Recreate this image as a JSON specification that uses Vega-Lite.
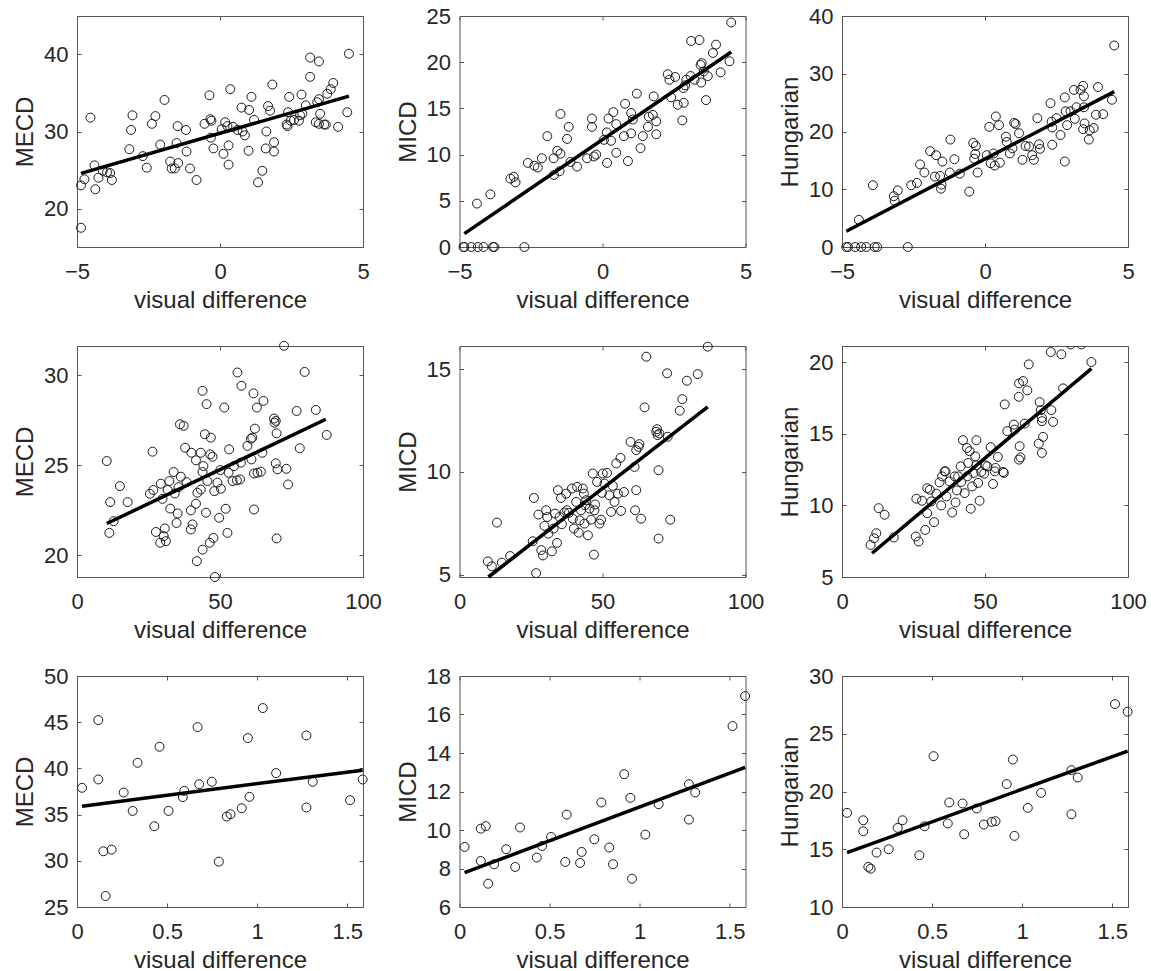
{
"$schema": "https://vega.github.io/schema/vega-lite/v6.json",
"background": "white",
"padding": {"left": 13, "top": 5, "right": 5, "bottom": 5},
"columns": 3,
"spacing": {"row": 99, "column": 96.5},
"bounds": "flush",
"config": {
  "view": {"stroke": null},
  "font": "Liberation Sans",
  "axis": {"grid": false, "domainColor": "#555555", "domainWidth": 1, "tickColor": "#555555", "tickSize": -4, "tickWidth": 1,
    "labelFont": "Liberation Sans", "labelFontSize": 22, "labelColor": "#262626", "labelFlush": false, "labelOverlap": false,
    "titleFont": "Liberation Sans", "titleFontSize": 24, "titleFontWeight": "normal", "titleColor": "#262626"},
  "axisBottom": {"labelPadding": 18, "titlePadding": 6, "labelExpr": "format(datum.value, '~g')"},
  "axisLeft": {"labelPadding": 13, "titlePadding": 6, "labelExpr": "format(datum.value, '~g')"},
  "point": {"shape": "circle", "filled": false, "size": 80, "stroke": "#1a1a1a", "strokeWidth": 1, "opacity": 1},
  "line": {"color": "#000000", "strokeWidth": 3.5}
},
"concat": [
{"width": 286, "height": 231, "resolve": {"axis": {"x": "independent", "y": "independent"}},
 "layer": [
  {"data": {"name": "p1"}, "mark": "point", "encoding": {
    "x": {"field": "x", "type": "quantitative", "scale": {"domain": [-5, 5], "nice": false, "zero": false}, "axis": {"title": "visual difference", "values": [-5, 0, 5]}},
    "y": {"field": "y", "type": "quantitative", "scale": {"domain": [15, 45], "nice": false, "zero": false}, "axis": {"title": "MECD", "values": [20, 30, 40]}}}},
  {"data": {"name": "l1"}, "mark": "line", "encoding": {
    "x": {"field": "x", "type": "quantitative", "scale": {"domain": [-5, 5], "nice": false, "zero": false}, "axis": {"orient": "top", "title": null, "labels": false, "values": [-5, 0, 5]}},
    "y": {"field": "y", "type": "quantitative", "scale": {"domain": [15, 45], "nice": false, "zero": false}, "axis": {"orient": "right", "title": null, "labels": false, "values": [20, 30, 40]}}}}
 ]},
{"width": 286, "height": 231, "resolve": {"axis": {"x": "independent", "y": "independent"}},
 "layer": [
  {"data": {"name": "p2"}, "mark": "point", "encoding": {
    "x": {"field": "x", "type": "quantitative", "scale": {"domain": [-5, 5], "nice": false, "zero": false}, "axis": {"title": "visual difference", "values": [-5, 0, 5]}},
    "y": {"field": "y", "type": "quantitative", "scale": {"domain": [0, 25], "nice": false, "zero": false}, "axis": {"title": "MICD", "values": [0, 5, 10, 15, 20, 25]}}}},
  {"data": {"name": "l2"}, "mark": "line", "encoding": {
    "x": {"field": "x", "type": "quantitative", "scale": {"domain": [-5, 5], "nice": false, "zero": false}, "axis": {"orient": "top", "title": null, "labels": false, "values": [-5, 0, 5]}},
    "y": {"field": "y", "type": "quantitative", "scale": {"domain": [0, 25], "nice": false, "zero": false}, "axis": {"orient": "right", "title": null, "labels": false, "values": [0, 5, 10, 15, 20, 25]}}}}
 ]},
{"width": 286, "height": 231, "resolve": {"axis": {"x": "independent", "y": "independent"}},
 "layer": [
  {"data": {"name": "p3"}, "mark": "point", "encoding": {
    "x": {"field": "x", "type": "quantitative", "scale": {"domain": [-5, 5], "nice": false, "zero": false}, "axis": {"title": "visual difference", "values": [-5, 0, 5]}},
    "y": {"field": "y", "type": "quantitative", "scale": {"domain": [0, 40], "nice": false, "zero": false}, "axis": {"title": "Hungarian", "values": [0, 10, 20, 30, 40]}}}},
  {"data": {"name": "l3"}, "mark": "line", "encoding": {
    "x": {"field": "x", "type": "quantitative", "scale": {"domain": [-5, 5], "nice": false, "zero": false}, "axis": {"orient": "top", "title": null, "labels": false, "values": [-5, 0, 5]}},
    "y": {"field": "y", "type": "quantitative", "scale": {"domain": [0, 40], "nice": false, "zero": false}, "axis": {"orient": "right", "title": null, "labels": false, "values": [0, 10, 20, 30, 40]}}}}
 ]},
{"width": 286, "height": 231, "resolve": {"axis": {"x": "independent", "y": "independent"}},
 "layer": [
  {"data": {"name": "p4"}, "mark": "point", "encoding": {
    "x": {"field": "x", "type": "quantitative", "scale": {"domain": [0, 100], "nice": false, "zero": false}, "axis": {"title": "visual difference", "values": [0, 50, 100]}},
    "y": {"field": "y", "type": "quantitative", "scale": {"domain": [18.8, 31.63], "nice": false, "zero": false}, "axis": {"title": "MECD", "values": [20, 25, 30]}}}},
  {"data": {"name": "l4"}, "mark": "line", "encoding": {
    "x": {"field": "x", "type": "quantitative", "scale": {"domain": [0, 100], "nice": false, "zero": false}, "axis": {"orient": "top", "title": null, "labels": false, "values": [0, 50, 100]}},
    "y": {"field": "y", "type": "quantitative", "scale": {"domain": [18.8, 31.63], "nice": false, "zero": false}, "axis": {"orient": "right", "title": null, "labels": false, "values": [20, 25, 30]}}}}
 ]},
{"width": 286, "height": 231, "resolve": {"axis": {"x": "independent", "y": "independent"}},
 "layer": [
  {"data": {"name": "p5"}, "mark": "point", "encoding": {
    "x": {"field": "x", "type": "quantitative", "scale": {"domain": [0, 100], "nice": false, "zero": false}, "axis": {"title": "visual difference", "values": [0, 50, 100]}},
    "y": {"field": "y", "type": "quantitative", "scale": {"domain": [4.88, 16.13], "nice": false, "zero": false}, "axis": {"title": "MICD", "values": [5, 10, 15]}}}},
  {"data": {"name": "l5"}, "mark": "line", "encoding": {
    "x": {"field": "x", "type": "quantitative", "scale": {"domain": [0, 100], "nice": false, "zero": false}, "axis": {"orient": "top", "title": null, "labels": false, "values": [0, 50, 100]}},
    "y": {"field": "y", "type": "quantitative", "scale": {"domain": [4.88, 16.13], "nice": false, "zero": false}, "axis": {"orient": "right", "title": null, "labels": false, "values": [5, 10, 15]}}}}
 ]},
{"width": 286, "height": 231, "resolve": {"axis": {"x": "independent", "y": "independent"}},
 "layer": [
  {"data": {"name": "p6"}, "mark": {"type": "point", "clip": true}, "encoding": {
    "x": {"field": "x", "type": "quantitative", "scale": {"domain": [0, 100], "nice": false, "zero": false}, "axis": {"title": "visual difference", "values": [0, 50, 100]}},
    "y": {"field": "y", "type": "quantitative", "scale": {"domain": [5, 21.14], "nice": false, "zero": false}, "axis": {"title": "Hungarian", "values": [5, 10, 15, 20]}}}},
  {"data": {"name": "l6"}, "mark": "line", "encoding": {
    "x": {"field": "x", "type": "quantitative", "scale": {"domain": [0, 100], "nice": false, "zero": false}, "axis": {"orient": "top", "title": null, "labels": false, "values": [0, 50, 100]}},
    "y": {"field": "y", "type": "quantitative", "scale": {"domain": [5, 21.14], "nice": false, "zero": false}, "axis": {"orient": "right", "title": null, "labels": false, "values": [5, 10, 15, 20]}}}}
 ]},
{"width": 286, "height": 231, "resolve": {"axis": {"x": "independent", "y": "independent"}},
 "layer": [
  {"data": {"name": "p7"}, "mark": "point", "encoding": {
    "x": {"field": "x", "type": "quantitative", "scale": {"domain": [0, 1.587], "nice": false, "zero": false}, "axis": {"title": "visual difference", "values": [0, 0.5, 1, 1.5]}},
    "y": {"field": "y", "type": "quantitative", "scale": {"domain": [25, 50], "nice": false, "zero": false}, "axis": {"title": "MECD", "values": [25, 30, 35, 40, 45, 50]}}}},
  {"data": {"name": "l7"}, "mark": "line", "encoding": {
    "x": {"field": "x", "type": "quantitative", "scale": {"domain": [0, 1.587], "nice": false, "zero": false}, "axis": {"orient": "top", "title": null, "labels": false, "values": [0, 0.5, 1, 1.5]}},
    "y": {"field": "y", "type": "quantitative", "scale": {"domain": [25, 50], "nice": false, "zero": false}, "axis": {"orient": "right", "title": null, "labels": false, "values": [25, 30, 35, 40, 45, 50]}}}}
 ]},
{"width": 286, "height": 231, "resolve": {"axis": {"x": "independent", "y": "independent"}},
 "layer": [
  {"data": {"name": "p8"}, "mark": "point", "encoding": {
    "x": {"field": "x", "type": "quantitative", "scale": {"domain": [0, 1.587], "nice": false, "zero": false}, "axis": {"title": "visual difference", "values": [0, 0.5, 1, 1.5]}},
    "y": {"field": "y", "type": "quantitative", "scale": {"domain": [6, 18], "nice": false, "zero": false}, "axis": {"title": "MICD", "values": [6, 8, 10, 12, 14, 16, 18]}}}},
  {"data": {"name": "l8"}, "mark": "line", "encoding": {
    "x": {"field": "x", "type": "quantitative", "scale": {"domain": [0, 1.587], "nice": false, "zero": false}, "axis": {"orient": "top", "title": null, "labels": false, "values": [0, 0.5, 1, 1.5]}},
    "y": {"field": "y", "type": "quantitative", "scale": {"domain": [6, 18], "nice": false, "zero": false}, "axis": {"orient": "right", "title": null, "labels": false, "values": [6, 8, 10, 12, 14, 16, 18]}}}}
 ]},
{"width": 286, "height": 231, "resolve": {"axis": {"x": "independent", "y": "independent"}},
 "layer": [
  {"data": {"name": "p9"}, "mark": "point", "encoding": {
    "x": {"field": "x", "type": "quantitative", "scale": {"domain": [0, 1.587], "nice": false, "zero": false}, "axis": {"title": "visual difference", "values": [0, 0.5, 1, 1.5]}},
    "y": {"field": "y", "type": "quantitative", "scale": {"domain": [10, 30], "nice": false, "zero": false}, "axis": {"title": "Hungarian", "values": [10, 15, 20, 25, 30]}}}},
  {"data": {"name": "l9"}, "mark": "line", "encoding": {
    "x": {"field": "x", "type": "quantitative", "scale": {"domain": [0, 1.587], "nice": false, "zero": false}, "axis": {"orient": "top", "title": null, "labels": false, "values": [0, 0.5, 1, 1.5]}},
    "y": {"field": "y", "type": "quantitative", "scale": {"domain": [10, 30], "nice": false, "zero": false}, "axis": {"orient": "right", "title": null, "labels": false, "values": [10, 15, 20, 25, 30]}}}}
 ]}
],
"datasets": {
"p1": [{"x":-4.86,"y":17.5},{"x":-4.86,"y":23.0},{"x":-4.74,"y":23.8},{"x":-4.53,"y":31.8},{"x":-4.39,"y":25.6},{"x":-4.36,"y":22.5},{"x":-4.25,"y":24.0},{"x":-4.1,"y":24.9},{"x":-3.95,"y":24.7},{"x":-3.84,"y":24.6},{"x":-3.78,"y":23.7},{"x":-3.17,"y":27.7},{"x":-3.11,"y":30.2},{"x":-3.06,"y":32.1},{"x":-2.7,"y":26.8},{"x":-2.56,"y":25.3},{"x":-2.38,"y":31.0},{"x":-2.26,"y":32.0},{"x":-2.09,"y":28.3},{"x":-1.94,"y":34.1},{"x":-1.74,"y":26.1},{"x":-1.69,"y":25.2},{"x":-1.58,"y":25.2},{"x":-1.46,"y":25.9},{"x":-1.48,"y":30.7},{"x":-1.52,"y":28.5},{"x":-1.19,"y":30.2},{"x":-1.17,"y":27.4},{"x":-1.05,"y":25.2},{"x":-0.82,"y":23.7},{"x":-0.54,"y":31.0},{"x":-0.37,"y":34.7},{"x":-0.34,"y":31.6},{"x":-0.3,"y":31.4},{"x":-0.32,"y":29.2},{"x":-0.23,"y":27.8},{"x":0.12,"y":27.1},{"x":0.18,"y":31.2},{"x":0.06,"y":30.3},{"x":0.26,"y":30.7},{"x":0.3,"y":28.2},{"x":0.3,"y":25.7},{"x":0.36,"y":35.5},{"x":0.46,"y":30.6},{"x":0.61,"y":30.2},{"x":0.75,"y":33.1},{"x":0.79,"y":30.0},{"x":0.87,"y":29.5},{"x":1.0,"y":27.5},{"x":1.02,"y":32.8},{"x":1.1,"y":34.5},{"x":1.19,"y":31.5},{"x":1.48,"y":24.9},{"x":1.33,"y":23.4},{"x":1.62,"y":30.0},{"x":1.6,"y":27.8},{"x":1.68,"y":33.3},{"x":1.75,"y":32.7},{"x":1.83,"y":36.1},{"x":1.89,"y":28.6},{"x":1.89,"y":27.4},{"x":2.38,"y":32.5},{"x":2.42,"y":34.5},{"x":2.33,"y":30.9},{"x":2.36,"y":30.7},{"x":2.47,"y":31.4},{"x":2.59,"y":31.5},{"x":2.76,"y":31.4},{"x":2.8,"y":32.1},{"x":2.85,"y":34.8},{"x":2.88,"y":32.3},{"x":3.0,"y":33.4},{"x":3.15,"y":37.1},{"x":3.15,"y":39.6},{"x":3.35,"y":31.2},{"x":3.46,"y":31.0},{"x":3.46,"y":39.1},{"x":3.46,"y":34.2},{"x":3.5,"y":32.3},{"x":3.4,"y":33.8},{"x":3.64,"y":30.9},{"x":3.7,"y":30.9},{"x":3.75,"y":34.9},{"x":3.87,"y":35.5},{"x":3.96,"y":36.3},{"x":4.13,"y":30.6},{"x":4.45,"y":32.5},{"x":4.51,"y":40.1}],
"l1": [{"x":-4.86,"y":24.56},{"x":4.51,"y":34.6}],
"p2": [{"x":-4.86,"y":0},{"x":-4.83,"y":0},{"x":-4.59,"y":0},{"x":-4.36,"y":0},{"x":-4.16,"y":0},{"x":-3.83,"y":0},{"x":-3.78,"y":0},{"x":-2.73,"y":0},{"x":-4.39,"y":4.7},{"x":-3.92,"y":5.7},{"x":-3.22,"y":7.4},{"x":-3.1,"y":7.6},{"x":-3.04,"y":7.0},{"x":-2.61,"y":9.1},{"x":-2.38,"y":8.8},{"x":-2.26,"y":8.6},{"x":-2.12,"y":9.6},{"x":-1.93,"y":12.0},{"x":-1.71,"y":9.6},{"x":-1.7,"y":7.8},{"x":-1.58,"y":10.4},{"x":-1.47,"y":14.4},{"x":-1.47,"y":10.1},{"x":-1.5,"y":8.2},{"x":-1.24,"y":11.7},{"x":-1.18,"y":13.0},{"x":-1.12,"y":9.2},{"x":-0.89,"y":8.7},{"x":-0.54,"y":9.6},{"x":-0.37,"y":13.9},{"x":-0.37,"y":13.0},{"x":-0.3,"y":9.8},{"x":-0.22,"y":10.0},{"x":0.05,"y":11.6},{"x":0.16,"y":9.1},{"x":0.15,"y":12.4},{"x":0.21,"y":13.9},{"x":0.3,"y":11.5},{"x":0.38,"y":14.6},{"x":0.48,"y":10.2},{"x":0.48,"y":13.3},{"x":0.79,"y":15.5},{"x":0.75,"y":12.0},{"x":0.89,"y":9.3},{"x":1.0,"y":12.3},{"x":1.0,"y":14.5},{"x":1.06,"y":13.8},{"x":1.2,"y":16.6},{"x":1.41,"y":12.0},{"x":1.33,"y":10.7},{"x":1.59,"y":13.0},{"x":1.62,"y":14.1},{"x":1.76,"y":14.3},{"x":1.79,"y":16.3},{"x":1.88,"y":12.2},{"x":1.88,"y":13.6},{"x":2.28,"y":18.7},{"x":2.34,"y":18.1},{"x":2.54,"y":18.4},{"x":2.4,"y":16.2},{"x":2.63,"y":15.4},{"x":2.84,"y":15.6},{"x":2.79,"y":13.7},{"x":2.83,"y":17.2},{"x":2.89,"y":17.5},{"x":2.93,"y":18.1},{"x":3.08,"y":18.5},{"x":3.1,"y":22.3},{"x":3.22,"y":18.1},{"x":3.39,"y":22.4},{"x":3.43,"y":19.7},{"x":3.47,"y":19.9},{"x":3.45,"y":17.8},{"x":3.54,"y":19.0},{"x":3.62,"y":15.9},{"x":3.68,"y":18.5},{"x":3.86,"y":21.0},{"x":3.97,"y":21.9},{"x":4.13,"y":18.9},{"x":4.44,"y":20.1},{"x":4.5,"y":24.3}],
"l2": [{"x":-4.83,"y":1.45},{"x":4.5,"y":21.1}],
"p3": [{"x":-4.85,"y":0},{"x":-4.79,"y":0},{"x":-4.54,"y":0},{"x":-4.33,"y":0},{"x":-4.15,"y":0},{"x":-3.86,"y":0},{"x":-3.77,"y":0},{"x":-2.7,"y":0},{"x":-4.41,"y":4.7},{"x":-3.92,"y":10.7},{"x":-3.19,"y":8.8},{"x":-3.16,"y":8.0},{"x":-3.05,"y":9.8},{"x":-2.58,"y":10.7},{"x":-2.38,"y":11.1},{"x":-2.27,"y":14.3},{"x":-2.12,"y":12.9},{"x":-1.92,"y":16.6},{"x":-1.71,"y":15.9},{"x":-1.75,"y":12.2},{"x":-1.57,"y":12.3},{"x":-1.54,"y":10.1},{"x":-1.52,"y":10.8},{"x":-1.49,"y":14.8},{"x":-1.21,"y":18.6},{"x":-1.23,"y":12.9},{"x":-1.07,"y":15.2},{"x":-0.88,"y":12.7},{"x":-0.55,"y":9.6},{"x":-0.41,"y":18.0},{"x":-0.32,"y":17.5},{"x":-0.38,"y":15.3},{"x":-0.26,"y":12.9},{"x":-0.34,"y":16.1},{"x":0.06,"y":15.9},{"x":0.15,"y":20.8},{"x":0.2,"y":14.5},{"x":0.3,"y":16.2},{"x":0.34,"y":14.1},{"x":0.38,"y":22.6},{"x":0.49,"y":21.1},{"x":0.52,"y":14.6},{"x":0.73,"y":19.1},{"x":0.76,"y":18.2},{"x":0.87,"y":16.2},{"x":0.96,"y":17.1},{"x":1.02,"y":21.5},{"x":1.07,"y":21.3},{"x":1.19,"y":19.7},{"x":1.31,"y":15.1},{"x":1.42,"y":17.5},{"x":1.54,"y":17.4},{"x":1.65,"y":15.9},{"x":1.71,"y":15.1},{"x":1.83,"y":22.3},{"x":1.89,"y":17.8},{"x":1.92,"y":17.0},{"x":2.29,"y":24.9},{"x":2.33,"y":21.7},{"x":2.35,"y":20.7},{"x":2.35,"y":17.7},{"x":2.5,"y":22.3},{"x":2.64,"y":19.4},{"x":2.79,"y":14.8},{"x":2.79,"y":25.9},{"x":2.82,"y":23.5},{"x":2.87,"y":21.1},{"x":2.99,"y":23.5},{"x":3.11,"y":27.2},{"x":3.14,"y":22.2},{"x":3.2,"y":24.2},{"x":3.34,"y":27.2},{"x":3.43,"y":27.9},{"x":3.46,"y":26.1},{"x":3.46,"y":24.2},{"x":3.48,"y":21.4},{"x":3.43,"y":20.4},{"x":3.63,"y":18.6},{"x":3.66,"y":20.2},{"x":3.8,"y":20.6},{"x":3.88,"y":22.9},{"x":3.95,"y":27.7},{"x":4.13,"y":23.0},{"x":4.44,"y":25.5},{"x":4.52,"y":34.9}],
"l3": [{"x":-4.85,"y":2.72},{"x":4.52,"y":26.9}],
"p4": [{"x":10.4,"y":25.24},{"x":11.6,"y":22.96},{"x":12.8,"y":21.9},{"x":11.3,"y":21.25},{"x":15.0,"y":23.85},{"x":17.7,"y":22.96},{"x":26.4,"y":25.76},{"x":25.5,"y":23.42},{"x":26.7,"y":23.63},{"x":27.6,"y":21.3},{"x":29.3,"y":23.98},{"x":29.1,"y":20.7},{"x":29.9,"y":23.14},{"x":30.3,"y":21.07},{"x":30.7,"y":21.5},{"x":31.1,"y":20.79},{"x":31.7,"y":23.63},{"x":32.3,"y":24.13},{"x":32.6,"y":22.6},{"x":33.8,"y":24.63},{"x":34.2,"y":23.44},{"x":34.8,"y":21.8},{"x":35.2,"y":22.33},{"x":35.5,"y":23.79},{"x":36.0,"y":27.28},{"x":36.3,"y":24.37},{"x":37.3,"y":27.19},{"x":37.8,"y":25.98},{"x":38.3,"y":24.07},{"x":39.8,"y":22.5},{"x":40.0,"y":25.7},{"x":39.8,"y":21.44},{"x":40.4,"y":21.72},{"x":41.6,"y":25.28},{"x":41.6,"y":22.87},{"x":41.9,"y":19.68},{"x":42.1,"y":23.48},{"x":43.3,"y":25.7},{"x":43.3,"y":23.66},{"x":43.9,"y":24.63},{"x":43.9,"y":20.32},{"x":43.9,"y":29.14},{"x":44.2,"y":24.96},{"x":44.7,"y":26.73},{"x":45.1,"y":22.37},{"x":45.3,"y":28.4},{"x":45.6,"y":24.13},{"x":46.4,"y":20.7},{"x":46.8,"y":26.54},{"x":46.6,"y":25.61},{"x":47.4,"y":25.48},{"x":47.7,"y":20.97},{"x":48.0,"y":23.57},{"x":48.2,"y":18.8},{"x":49.1,"y":24.04},{"x":49.7,"y":22.09},{"x":50.3,"y":23.7},{"x":50.1,"y":24.74},{"x":51.5,"y":28.21},{"x":52.0,"y":22.59},{"x":52.6,"y":21.25},{"x":53.0,"y":24.59},{"x":53.2,"y":25.89},{"x":54.4,"y":24.13},{"x":54.9,"y":24.96},{"x":55.9,"y":24.17},{"x":56.1,"y":30.16},{"x":57.0,"y":24.22},{"x":57.3,"y":25.15},{"x":57.5,"y":29.42},{"x":59.6,"y":26.08},{"x":60.8,"y":26.48},{"x":61.0,"y":25.33},{"x":61.3,"y":26.54},{"x":61.7,"y":29.0},{"x":61.9,"y":22.55},{"x":61.9,"y":24.55},{"x":62.2,"y":27.04},{"x":62.9,"y":28.21},{"x":63.1,"y":24.59},{"x":64.3,"y":24.65},{"x":64.8,"y":25.7},{"x":65.2,"y":28.58},{"x":68.9,"y":27.6},{"x":69.1,"y":27.37},{"x":69.5,"y":27.47},{"x":69.5,"y":25.11},{"x":69.8,"y":26.78},{"x":70.1,"y":24.78},{"x":69.8,"y":20.94},{"x":72.4,"y":31.64},{"x":73.2,"y":24.81},{"x":73.8,"y":23.94},{"x":76.8,"y":28.02},{"x":77.9,"y":25.95},{"x":79.6,"y":30.19},{"x":83.5,"y":28.08},{"x":87.3,"y":26.69}],
"l4": [{"x":10.4,"y":21.77},{"x":87.0,"y":27.56}],
"p5": [{"x":9.9,"y":5.64},{"x":11.3,"y":5.4},{"x":13.1,"y":7.53},{"x":14.8,"y":5.58},{"x":17.7,"y":5.9},{"x":25.6,"y":6.62},{"x":26.0,"y":8.73},{"x":26.8,"y":5.07},{"x":27.6,"y":7.92},{"x":28.6,"y":6.19},{"x":29.2,"y":5.93},{"x":29.7,"y":7.37},{"x":30.3,"y":8.13},{"x":30.7,"y":7.8},{"x":31.1,"y":6.99},{"x":32.3,"y":6.13},{"x":32.9,"y":7.24},{"x":33.4,"y":7.97},{"x":34.1,"y":6.54},{"x":34.4,"y":9.11},{"x":35.0,"y":7.8},{"x":35.5,"y":8.73},{"x":35.8,"y":7.45},{"x":36.7,"y":8.02},{"x":37.3,"y":8.94},{"x":37.6,"y":8.13},{"x":38.2,"y":8.0},{"x":39.3,"y":9.19},{"x":39.6,"y":7.72},{"x":40.0,"y":7.24},{"x":40.8,"y":8.54},{"x":41.1,"y":9.27},{"x":41.7,"y":7.04},{"x":42.0,"y":7.64},{"x":42.5,"y":8.13},{"x":43.1,"y":9.19},{"x":43.5,"y":8.94},{"x":43.7,"y":7.48},{"x":43.9,"y":8.37},{"x":44.3,"y":8.62},{"x":44.9,"y":6.91},{"x":45.5,"y":8.21},{"x":46.0,"y":7.67},{"x":46.6,"y":9.92},{"x":47.0,"y":5.97},{"x":47.2,"y":8.13},{"x":47.4,"y":8.41},{"x":48.1,"y":9.51},{"x":48.95,"y":7.48},{"x":49.5,"y":7.67},{"x":49.8,"y":8.98},{"x":50.1,"y":9.92},{"x":50.7,"y":9.43},{"x":51.6,"y":9.95},{"x":52.4,"y":8.86},{"x":53.0,"y":8.05},{"x":53.6,"y":9.32},{"x":54.2,"y":8.54},{"x":54.8,"y":10.41},{"x":55.4,"y":8.94},{"x":56.3,"y":10.68},{"x":56.5,"y":8.1},{"x":57.5,"y":9.02},{"x":59.8,"y":11.46},{"x":61.2,"y":10.24},{"x":61.4,"y":8.13},{"x":61.8,"y":9.11},{"x":61.8,"y":11.06},{"x":62.6,"y":11.22},{"x":62.9,"y":11.35},{"x":63.5,"y":7.72},{"x":64.7,"y":13.14},{"x":65.3,"y":15.61},{"x":68.8,"y":11.95},{"x":69.1,"y":12.08},{"x":69.3,"y":11.79},{"x":69.6,"y":10.08},{"x":69.9,"y":11.87},{"x":69.6,"y":6.75},{"x":72.8,"y":11.71},{"x":72.6,"y":14.8},{"x":73.7,"y":7.67},{"x":77.0,"y":12.98},{"x":77.9,"y":13.54},{"x":79.5,"y":14.44},{"x":83.3,"y":14.76},{"x":86.8,"y":16.1}],
"l5": [{"x":10.1,"y":4.88},{"x":86.8,"y":13.17}],
"p6": [{"x":10.0,"y":7.24},{"x":11.2,"y":7.71},{"x":12.0,"y":8.06},{"x":12.8,"y":9.81},{"x":14.9,"y":9.35},{"x":18.1,"y":7.76},{"x":26.0,"y":10.47},{"x":25.8,"y":7.83},{"x":26.8,"y":7.48},{"x":28.0,"y":10.33},{"x":29.1,"y":8.29},{"x":29.8,"y":9.46},{"x":29.8,"y":11.21},{"x":30.7,"y":11.1},{"x":31.2,"y":10.28},{"x":32.2,"y":8.83},{"x":33.0,"y":10.82},{"x":34.1,"y":11.61},{"x":34.7,"y":10.0},{"x":35.0,"y":12.03},{"x":35.9,"y":12.38},{"x":36.2,"y":12.38},{"x":36.5,"y":10.63},{"x":37.6,"y":11.68},{"x":38.5,"y":9.51},{"x":39.4,"y":12.03},{"x":39.7,"y":10.21},{"x":40.2,"y":11.05},{"x":40.6,"y":12.03},{"x":41.5,"y":12.73},{"x":41.7,"y":11.64},{"x":42.3,"y":14.56},{"x":42.9,"y":10.86},{"x":43.7,"y":14.02},{"x":43.8,"y":12.03},{"x":44.1,"y":12.97},{"x":44.6,"y":13.79},{"x":45.0,"y":9.77},{"x":45.5,"y":11.33},{"x":46.0,"y":12.27},{"x":46.6,"y":13.43},{"x":47.0,"y":14.56},{"x":47.0,"y":12.8},{"x":47.6,"y":11.57},{"x":48.1,"y":10.33},{"x":48.7,"y":12.34},{"x":49.7,"y":12.22},{"x":50.2,"y":12.8},{"x":50.8,"y":12.73},{"x":52.0,"y":14.07},{"x":52.8,"y":11.5},{"x":53.4,"y":12.38},{"x":53.7,"y":12.62},{"x":54.5,"y":13.39},{"x":56.3,"y":12.34},{"x":56.6,"y":12.27},{"x":56.9,"y":17.06},{"x":57.8,"y":15.19},{"x":60.1,"y":15.65},{"x":60.4,"y":15.3},{"x":61.8,"y":17.59},{"x":61.9,"y":18.53},{"x":62.1,"y":14.14},{"x":61.9,"y":13.2},{"x":62.4,"y":13.36},{"x":63.3,"y":18.69},{"x":63.9,"y":15.72},{"x":65.3,"y":19.86},{"x":64.8,"y":18.04},{"x":69.1,"y":17.22},{"x":69.5,"y":16.66},{"x":69.9,"y":15.89},{"x":69.9,"y":16.12},{"x":68.8,"y":14.32},{"x":70.3,"y":14.79},{"x":69.9,"y":13.67},{"x":73.0,"y":20.72},{"x":73.2,"y":16.66},{"x":73.8,"y":15.84},{"x":76.7,"y":20.56},{"x":77.3,"y":18.18},{"x":80.0,"y":21.25},{"x":83.7,"y":21.25},{"x":87.2,"y":20.02}],
"l6": [{"x":10.5,"y":6.66},{"x":87.2,"y":19.56}],
"p7": [{"x":0.028,"y":37.9},{"x":0.118,"y":45.23},{"x":0.118,"y":38.8},{"x":0.146,"y":31.03},{"x":0.159,"y":26.19},{"x":0.192,"y":31.21},{"x":0.259,"y":37.39},{"x":0.309,"y":35.4},{"x":0.336,"y":40.61},{"x":0.429,"y":33.74},{"x":0.458,"y":42.34},{"x":0.508,"y":35.4},{"x":0.587,"y":36.89},{"x":0.595,"y":37.57},{"x":0.669,"y":44.47},{"x":0.678,"y":38.29},{"x":0.748,"y":38.55},{"x":0.787,"y":29.91},{"x":0.831,"y":34.79},{"x":0.852,"y":35.04},{"x":0.914,"y":35.69},{"x":0.948,"y":43.28},{"x":0.957,"y":36.92},{"x":1.031,"y":46.53},{"x":1.105,"y":39.49},{"x":1.273,"y":43.57},{"x":1.273,"y":35.77},{"x":1.308,"y":38.55},{"x":1.515,"y":36.56},{"x":1.585,"y":38.8}],
"l7": [{"x":0.028,"y":35.91},{"x":1.585,"y":39.81}],
"p8": [{"x":0.028,"y":9.12},{"x":0.118,"y":10.07},{"x":0.118,"y":8.39},{"x":0.146,"y":10.2},{"x":0.159,"y":7.21},{"x":0.192,"y":8.22},{"x":0.259,"y":9.0},{"x":0.309,"y":8.08},{"x":0.336,"y":10.13},{"x":0.429,"y":8.57},{"x":0.458,"y":9.17},{"x":0.508,"y":9.64},{"x":0.587,"y":8.34},{"x":0.595,"y":10.8},{"x":0.669,"y":8.29},{"x":0.678,"y":8.86},{"x":0.748,"y":9.52},{"x":0.787,"y":11.43},{"x":0.831,"y":9.09},{"x":0.852,"y":8.22},{"x":0.914,"y":12.9},{"x":0.948,"y":11.67},{"x":0.957,"y":7.47},{"x":1.031,"y":9.76},{"x":1.105,"y":11.34},{"x":1.273,"y":12.38},{"x":1.273,"y":10.54},{"x":1.308,"y":11.95},{"x":1.515,"y":15.4},{"x":1.585,"y":16.96}],
"l8": [{"x":0.028,"y":7.79},{"x":1.585,"y":13.25}],
"p9": [{"x":0.028,"y":18.15},{"x":0.118,"y":17.51},{"x":0.118,"y":16.56},{"x":0.146,"y":13.47},{"x":0.159,"y":13.32},{"x":0.192,"y":14.71},{"x":0.259,"y":15.0},{"x":0.309,"y":16.85},{"x":0.336,"y":17.51},{"x":0.429,"y":14.48},{"x":0.458,"y":16.99},{"x":0.508,"y":23.06},{"x":0.587,"y":17.23},{"x":0.595,"y":19.05},{"x":0.669,"y":18.96},{"x":0.678,"y":16.3},{"x":0.748,"y":18.53},{"x":0.787,"y":17.14},{"x":0.831,"y":17.37},{"x":0.852,"y":17.43},{"x":0.914,"y":20.64},{"x":0.948,"y":22.77},{"x":0.957,"y":16.16},{"x":1.031,"y":18.58},{"x":1.105,"y":19.88},{"x":1.273,"y":21.85},{"x":1.273,"y":18.03},{"x":1.308,"y":21.21},{"x":1.515,"y":27.57},{"x":1.585,"y":26.91}],
"l9": [{"x":0.028,"y":14.71},{"x":1.585,"y":23.5}]
}
}
